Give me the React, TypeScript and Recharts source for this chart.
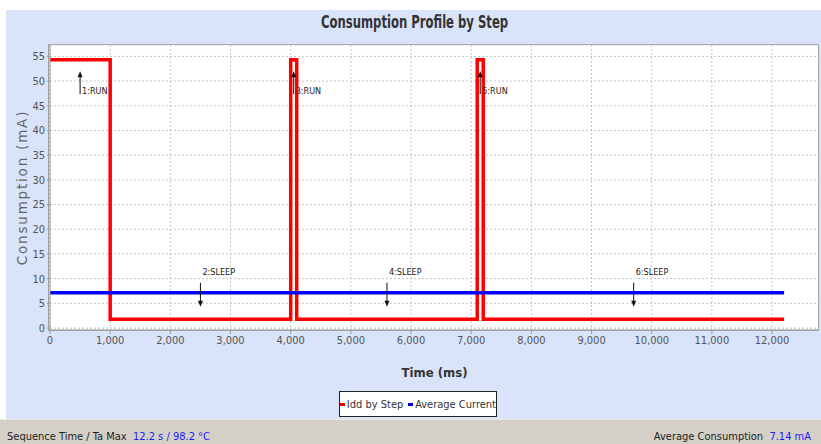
import {
  LineChart,
  Line,
  XAxis,
  YAxis,
  CartesianGrid,
  ReferenceDot,
  Legend,
} from "recharts";

// step profile: transitions (ms) and current (mA)
const stepTimes = [0, 1000, 4000, 4100, 7100, 7200, 12200];
const iddValues = [54.3, 1.8, 54.3, 1.8, 54.3, 1.8, 1.8];
const averageCurrent = 7.14;

// step annotations
const stepNames = ["1:RUN", "2:SLEEP", "3:RUN", "4:SLEEP", "5:RUN", "6:SLEEP"];
const stepMidTimes = [500, 2500, 4050, 5600, 7150, 9700];
const arrowTipValues = [52, 4.3, 52, 4.3, 52, 4.3];

const xTicks = [0, 1000, 2000, 3000, 4000, 5000, 6000, 7000, 8000, 9000, 10000, 11000, 12000];
const yTicks = [0, 5, 10, 15, 20, 25, 30, 35, 40, 45, 50, 55];

const data = stepTimes.map((t, i) => ({ time: t, idd: iddValues[i], avg: averageCurrent }));

const NARROW = "'DejaVu Sans', sans-serif";
const narrow = { fontFamily: NARROW, fontStretch: "condensed" } as const;

const fmt = (v: number) => String(v).replace(/\B(?=(\d{3})+(?!\d))/g, ",");

const StepArrow = ({ cx, cy, label, up }: any) => {
  if (cx == null || cy == null) return null;
  if (up) {
    return (
      <g>
        <line x1={cx} y1={cy + 3} x2={cx} y2={cy + 23} stroke="#111" strokeWidth={1} />
        <path d={`M${cx - 2.5},${cy + 6} L${cx},${cy} L${cx + 2.5},${cy + 6} Z`} fill="#111" />
        <text x={cx + 2} y={cy + 23} style={{ ...narrow, fontSize: 9 }} fill="#222">
          {label}
        </text>
      </g>
    );
  }
  return (
    <g>
      <line x1={cx} y1={cy - 24} x2={cx} y2={cy - 3} stroke="#111" strokeWidth={1} />
      <path d={`M${cx - 2.5},${cy - 6} L${cx},${cy} L${cx + 2.5},${cy - 6} Z`} fill="#111" />
      <text x={cx + 2} y={cy - 32} style={{ ...narrow, fontSize: 9 }} fill="#222">
        {label}
      </text>
    </g>
  );
};

const LegendBox = () => (
  <div
    style={{
      width: 158,
      height: 26,
      boxSizing: "border-box",
      border: "1px solid #222",
      background: "#fff",
      display: "flex",
      alignItems: "center",
      justifyContent: "center",
      ...narrow,
      fontSize: 11,
      color: "#333",
      whiteSpace: "nowrap",
      gap: 2,
    }}
  >
    <span style={{ display: "inline-block", width: 13, height: 3, background: "#ff0000" }} />
    <span style={{ marginRight: 3 }}>Idd by Step</span>
    <span style={{ display: "inline-block", width: 13, height: 3, background: "#0000ff" }} />
    <span>Average Current</span>
  </div>
);

export default function App() {
  return (
    <div
      style={{
        position: "fixed",
        left: 0,
        top: 0,
        width: 821,
        height: 444,
        background: "#fff",
        overflow: "hidden",
      }}
    >
      <div style={{ position: "absolute", left: 6, top: 10, width: 815, height: 409, background: "#d9e3f9" }} />
      <div
        style={{
          position: "absolute",
          left: 6,
          top: 14,
          width: 815,
          textAlign: "center",
          ...narrow,
          fontWeight: "bold",
          fontSize: 17,
          color: "#333",
          lineHeight: "17px",
          transform: "scaleX(0.76)",
          transformOrigin: "412px 0",
        }}
      >
        Consumption Profile by Step
      </div>
      {/* plot frame */}
      <div
        style={{
          position: "absolute",
          left: 48,
          top: 44,
          width: 771,
          height: 287,
          boxSizing: "border-box",
          border: "1px solid #a0a0a0",
          background: "#fff",
        }}
      />
      <div
        style={{
          position: "absolute",
          left: 0,
          top: 419,
          width: 821,
          height: 25,
          background: "#d4d0c8",
          borderTop: "1px solid #ebe9e4",
          ...narrow,
          fontSize: 11,
          color: "#222",
          whiteSpace: "nowrap",
        }}
      >
        <span style={{ position: "absolute", left: 7, top: 10 }}>
          Sequence Time / Ta Max&nbsp;&nbsp;
          <span style={{ color: "#1a1aff" }}>12.2 s / 98.2 °C</span>
        </span>
        <span style={{ position: "absolute", right: 10, top: 10 }}>
          Average Consumption&nbsp;&nbsp;
          <span style={{ color: "#1a1aff" }}>7.14 mA</span>
        </span>
      </div>
      <div style={{ position: "absolute", left: 0, top: 0 }}>
        <LineChart
          width={821}
          height={444}
          data={data}
          margin={{ top: 45, right: 2, bottom: 64, left: 15 }}
        >
          <CartesianGrid strokeDasharray="2 2" stroke="#c4c4c4" />
          <XAxis
            dataKey="time"
            type="number"
            domain={[0, 12780]}
            ticks={xTicks}
            tickFormatter={fmt}
            height={50}
            axisLine={{ stroke: "#999" }}
            tickLine={{ stroke: "#999" }}
            tickSize={4}
            tick={{ fill: "#555", fontSize: 11, ...narrow }}
            label={{
              value: "Time (ms)",
              position: "insideBottom",
              offset: 3,
              style: { fill: "#333", fontSize: 13, fontWeight: "bold", ...narrow },
            }}
          />
          <YAxis
            type="number"
            domain={[-0.4, 57.3]}
            ticks={yTicks}
            width={35}
            axisLine={{ stroke: "#999" }}
            tickLine={{ stroke: "#999" }}
            tickSize={3}
            tick={{ fill: "#555", fontSize: 11, ...narrow }}
            label={{
              value: "Consumption (mA)",
              angle: -90,
              position: "insideLeft",
              offset: 7,
              style: { textAnchor: "middle", fill: "#666", fontSize: 13.5, fontFamily: "'DejaVu Sans', sans-serif", letterSpacing: 1.8 },
            }}
          />
          <Legend
            verticalAlign="middle"
            align="center"
            layout="horizontal"
            wrapperStyle={{ top: 391, left: 339, width: 158, height: 26 }}
            content={() => <LegendBox />}
          />
          <Line
            dataKey="idd"
            name="Idd by Step"
            type="stepAfter"
            stroke="#ff0000"
            strokeWidth={3.5}
            dot={false}
            isAnimationActive={false}
          />
          <Line
            dataKey="avg"
            name="Average Current"
            type="linear"
            stroke="#0000ff"
            strokeWidth={3.5}
            dot={false}
            isAnimationActive={false}
          />
          {stepNames.map((name, i) => (
            <ReferenceDot
              key={name}
              x={stepMidTimes[i]}
              y={arrowTipValues[i]}
              r={0}
              shape={(p: any) => <StepArrow {...p} label={name} up={name.includes("RUN")} />}
            />
          ))}
        </LineChart>
      </div>
    </div>
  );
}
